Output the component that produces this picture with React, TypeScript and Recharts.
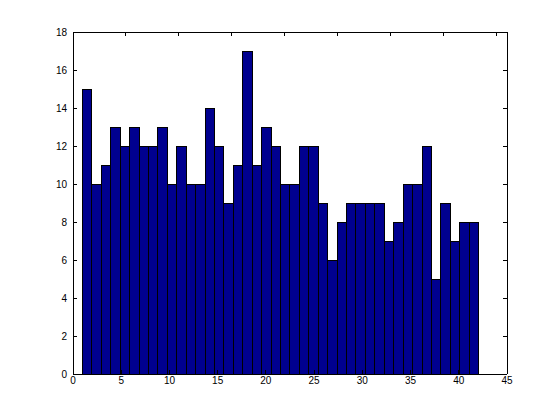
import { BarChart, Bar, XAxis, YAxis } from 'recharts';

// bin centres of the histogram
const binCenters = [
    1.470, 2.448, 3.426, 4.404, 5.382, 6.360, 7.338, 8.316, 9.294, 10.272,
    11.250, 12.228, 13.206, 14.184, 15.162, 16.140, 17.118, 18.096, 19.074, 20.052,
    21.030, 22.008, 22.986, 23.964, 24.942, 25.920, 26.898, 27.876, 28.854, 29.832,
    30.810, 31.788, 32.766, 33.744, 34.722, 35.700, 36.678, 37.656, 38.634, 39.612,
    40.590, 41.568,
];

const counts = [
    15, 10, 11, 13, 12, 13, 12, 12, 13, 10,
    12, 10, 10, 14, 12, 9, 11, 17, 11, 13,
    12, 10, 10, 12, 12, 9, 6, 8, 9, 9,
    9, 9, 7, 8, 10, 10, 12, 5, 9, 7,
    8, 8,
];

const xTicks = [0, 5, 10, 15, 20, 25, 30, 35, 40, 45];
const yTicks = [0, 2, 4, 6, 8, 10, 12, 14, 16, 18];

const data = binCenters.map((x, i) => ({ x, count: counts[i] }));

const tickFont = { fontFamily: 'Liberation Sans, Arial, sans-serif', fontSize: 10, fill: '#000' };

// top/right axes only carry the inward tick marks, no labels
const NoLabel = () => <g />;

export default function App() {
    return (
        <div style={{ position: 'absolute', left: 0, top: 0, width: 560, height: 420, background: '#fff' }}>
            {/* clip to the figure area so nothing stray shows right of the box */}
            <div style={{ width: 530, height: 420, overflow: 'hidden' }}>
                <BarChart
                    width={560}
                    height={420}
                    data={data}
                    margin={{ top: 31, right: 52, left: 0, bottom: 26 }}
                    barCategoryGap={0}
                >
                    <XAxis
                        dataKey="x"
                        type="number"
                        domain={[0, 45]}
                        ticks={xTicks}
                        allowDataOverflow
                        height={20}
                        stroke="#000"
                        tickSize={-4}
                        tickMargin={7}
                        tick={tickFont}
                        shapeRendering="crispEdges"
                    />
                    <XAxis
                        xAxisId="top"
                        orientation="top"
                        type="number"
                        domain={[0, 45]}
                        ticks={xTicks}
                        allowDataOverflow
                        height={1}
                        stroke="#000"
                        tickSize={-4}
                        tick={NoLabel}
                        shapeRendering="crispEdges"
                    />
                    <YAxis
                        type="number"
                        domain={[0, 18]}
                        ticks={yTicks}
                        allowDataOverflow
                        width={73}
                        stroke="#000"
                        tickSize={-4}
                        tickMargin={10}
                        tick={tickFont}
                        shapeRendering="crispEdges"
                    />
                    <YAxis
                        yAxisId="right"
                        orientation="right"
                        type="number"
                        domain={[0, 18]}
                        ticks={yTicks}
                        allowDataOverflow
                        width={1}
                        stroke="#000"
                        tickSize={-4}
                        tick={NoLabel}
                        shapeRendering="crispEdges"
                    />
                    <Bar
                        dataKey="count"
                        fill="#00008F"
                        stroke="#000"
                        strokeWidth={1}
                        barSize={9.42}
                        shapeRendering="crispEdges"
                        isAnimationActive={false}
                    />
                </BarChart>
            </div>
        </div>
    );
}
